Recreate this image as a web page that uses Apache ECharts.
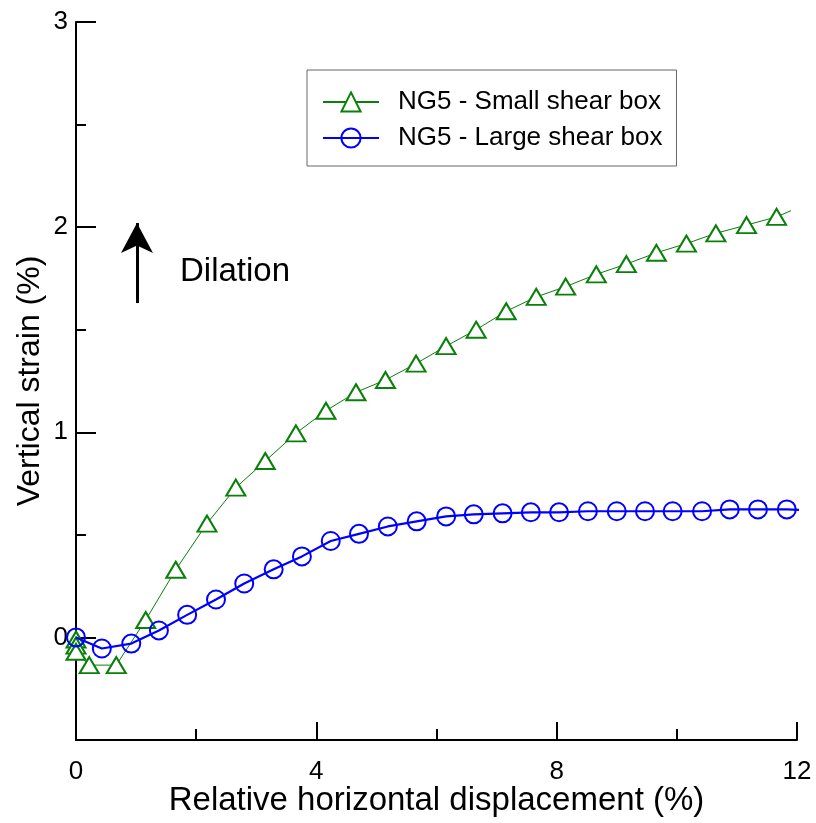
<!DOCTYPE html>
<html><head><meta charset="utf-8">
<script src="https://cdn.jsdelivr.net/npm/echarts@6/dist/echarts.min.js"></script>
<style>html,body{margin:0;padding:0;background:#fff}#c{width:816px;height:823px}</style>
</head><body><div id="c"></div>
<script>
// Data
const smallName = 'NG5 - Small shear box';
const largeName = 'NG5 - Large shear box';
const smallX = [0, 0, 0, 0.22, 0.67, 1.16, 1.66, 2.18, 2.66, 3.15, 3.66, 4.16, 4.66, 5.15, 5.66, 6.16, 6.66, 7.16, 7.66, 8.15, 8.66, 9.16, 9.66, 10.16, 10.65, 11.16, 11.66];
const smallY = [-0.01, -0.04, -0.07, -0.135, -0.135, 0.085, 0.33, 0.555, 0.73, 0.86, 0.995, 1.105, 1.195, 1.255, 1.335, 1.42, 1.5, 1.59, 1.66, 1.71, 1.77, 1.82, 1.875, 1.92, 1.97, 2.01, 2.05];
const smallEnd = [11.9, 2.08];
const largeX = [0, 0.43, 0.92, 1.38, 1.85, 2.33, 2.8, 3.29, 3.76, 4.24, 4.71, 5.19, 5.67, 6.16, 6.62, 7.1, 7.57, 8.04, 8.52, 9.0, 9.47, 9.93, 10.42, 10.88, 11.35, 11.83];
const largeY = [0, -0.054, -0.03, 0.034, 0.11, 0.185, 0.263, 0.332, 0.395, 0.47, 0.505, 0.541, 0.566, 0.59, 0.6, 0.605, 0.61, 0.61, 0.615, 0.615, 0.615, 0.615, 0.615, 0.624, 0.624, 0.624];
const largeEnd = [12.18, 0.62];
const xMajor = [0, 4, 8, 12];
const xMinor = [2, 6, 10];
const yMajor = [0, 1, 2, 3];
const yMinor = [0.5, 1.5, 2.5];
const arrowFrom = [1.015, 1.63];
const arrowTo = [1.015, 2.02];
const annotation = 'Dilation';

const FONT = '"Liberation Sans", Arial, sans-serif';
function build(xs, ys, end) {
  const d = xs.map((x, i) => [x, ys[i]]);
  d.push({ value: end, symbol: 'none' });
  return d;
}
const chart = echarts.init(document.getElementById('c'));
const baseY = { type: 'value', min: -0.5, max: 3, interval: 0.5, splitLine: { show: false } };
const baseX = { type: 'value', min: 0, max: 12, interval: 4, splitLine: { show: false } };
chart.setOption({
  animation: false,
  backgroundColor: '#fff',
  grid: { left: 76, right: 19, top: 22, bottom: 83, containLabel: false, outerBoundsMode: 'none' },
  legend: {
    orient: 'vertical', left: 307, top: 70,
    data: [smallName, largeName],
    itemWidth: 56, itemHeight: 24, itemGap: 10,
    padding: [19, 14, 15, 15],
    borderColor: '#666', borderWidth: 1,
    textStyle: { fontFamily: FONT, fontSize: 26, color: '#000', padding: [0, 0, 0, 14] }
  },
  xAxis: [
    Object.assign({}, baseX, {
      position: 'bottom',
      name: 'Relative horizontal displacement (%)', nameLocation: 'middle', nameGap: 44,
      nameMoveOverlap: false,
      nameTextStyle: { fontFamily: FONT, fontSize: 33, color: '#000' },
      axisLine: { onZero: false, lineStyle: { color: '#000', width: 2 } },
      axisTick: { inside: true, length: 18, customValues: xMajor, lineStyle: { color: '#000', width: 2 } },
      axisLabel: { customValues: xMajor, fontFamily: FONT, fontSize: 26, color: '#000', margin: 19 }
    }),
    Object.assign({}, baseX, {
      position: 'bottom', offset: 0,
      axisLine: { show: false, onZero: false },
      axisTick: { inside: true, length: 11, customValues: xMinor, lineStyle: { color: '#000', width: 2 } },
      axisLabel: { show: false }
    })
  ],
  yAxis: [
    Object.assign({}, baseY, {
      position: 'left',
      name: 'Vertical strain (%)', nameLocation: 'middle', nameGap: 30, nameRotate: 90,
      nameMoveOverlap: false,
      nameTextStyle: { fontFamily: FONT, fontSize: 32, color: '#000' },
      axisLine: { onZero: false, lineStyle: { color: '#000', width: 2 } },
      axisTick: { inside: true, length: 20, customValues: yMajor, lineStyle: { color: '#000', width: 2 } },
      axisLabel: { customValues: yMajor, fontFamily: FONT, fontSize: 26, color: '#000', margin: 8 }
    }),
    Object.assign({}, baseY, {
      position: 'left', offset: 0,
      axisLine: { show: false, onZero: false },
      axisTick: { inside: true, length: 10, customValues: yMinor, lineStyle: { color: '#000', width: 2 } },
      axisLabel: { show: false }
    })
  ],
  graphic: [{
    type: 'text', left: 180, top: 255,
    style: { text: annotation, fontFamily: FONT, fontSize: 33, fill: '#000' }
  }],
  series: [
    {
      name: smallName, type: 'line', xAxisIndex: 0, yAxisIndex: 0,
      data: build(smallX, smallY, smallEnd),
      showAllSymbol: true,
      symbol: 'triangle', symbolSize: [19, 16],
      itemStyle: { color: '#fff', borderColor: '#0a800a', borderWidth: 2 },
      lineStyle: { color: '#0a800a', width: 1 },
      z: 3,
      markLine: {
        silent: true, symbol: ['none', 'arrow'], symbolSize: [24, 30],
        label: { show: false },
        lineStyle: { color: '#000', width: 3, type: 'solid' },
        data: [[{ coord: arrowFrom }, { coord: arrowTo }]]
      }
    },
    {
      name: largeName, type: 'line', xAxisIndex: 0, yAxisIndex: 0,
      data: build(largeX, largeY, largeEnd),
      showAllSymbol: true, clip: false,
      symbol: 'circle', symbolSize: 18,
      itemStyle: { color: 'rgba(255,255,255,0)', borderColor: '#0000ff', borderWidth: 2 },
      lineStyle: { color: '#0000ff', width: 2.2 },
      z: 4
    }
  ]
});
</script></body></html>
